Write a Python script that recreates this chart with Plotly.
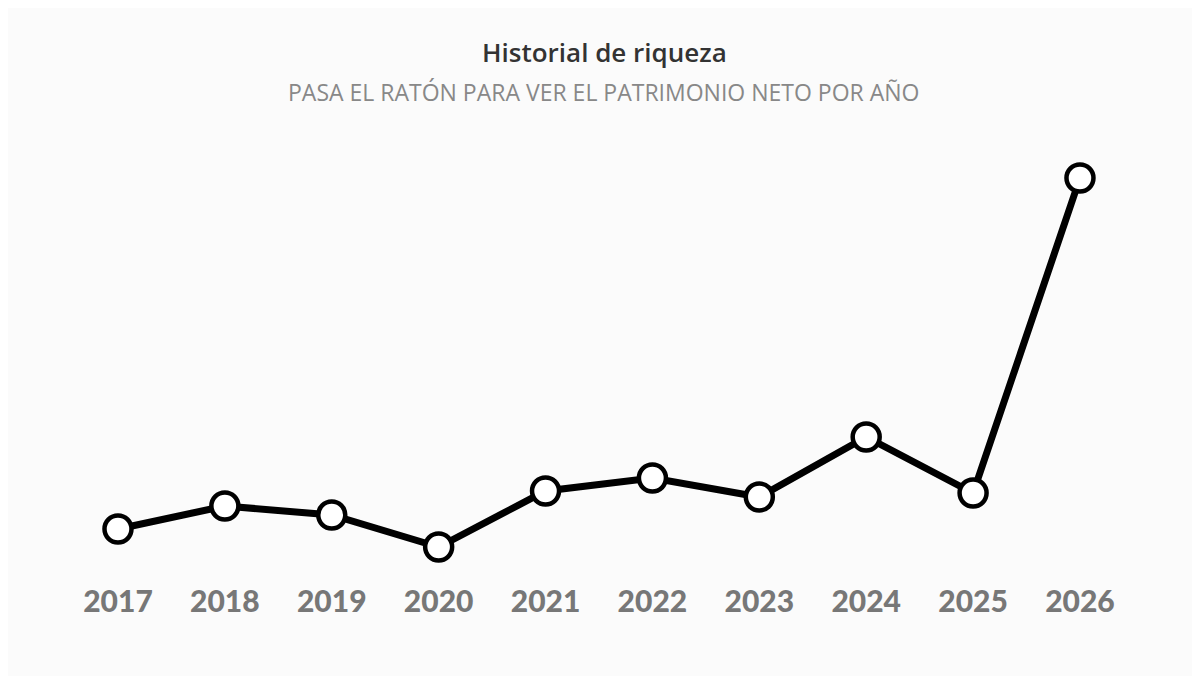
import plotly.graph_objects as go

# años y patrimonio (unidades relativas)
years = [2017, 2018, 2019, 2020, 2021, 2022, 2023, 2024, 2025, 2026]
wealth = [71, 94, 85, 53, 109, 122, 103, 163, 107, 422]
year_labels = [str(y) for y in years]

title_text = "Historial de riqueza"
subtitle_text = "PASA EL RATÓN PARA VER EL PATRIMONIO NETO POR AÑO"

bg = "#fbfbfb"

line = go.Scatter(
    x=years, y=wealth, mode="lines+markers",
    line=dict(color="#000000", width=7),
    marker=dict(size=27, color="#ffffff", line=dict(color="#000000", width=4.5)),
    hovertemplate="%{x}: %{y}<extra></extra>",
)

fig = go.Figure(data=[line])
# la página añade 8px de margen, así que el lienzo es 1192x668
fig.update_layout(
    width=1192, height=668,
    paper_bgcolor=bg, plot_bgcolor=bg,
    margin=dict(l=0, r=0, t=132, b=98),
    showlegend=False,
    xaxis=dict(range=[2015.971, 2027.123], tickmode="array", tickvals=years, ticktext=year_labels,
               showgrid=False, zeroline=False, showline=False, ticks="",
               ticklabelstandoff=3,
               tickfont=dict(family="Lato", size=30, color="#777777", weight=900)),
    yaxis=dict(range=[22, 460], visible=False),
    annotations=[
        dict(text=title_text, x=0.5, y=1.201, xref="paper", yref="paper", showarrow=False,
             yanchor="middle", font=dict(family="Open Sans", size=26, color="#333333", weight=600)),
        dict(text=subtitle_text, x=0.5, y=1.11, xref="paper", yref="paper", showarrow=False,
             yanchor="middle", font=dict(family="Open Sans", size=23, color="#888888")),
    ],
)

fig.write_html("out.html")
